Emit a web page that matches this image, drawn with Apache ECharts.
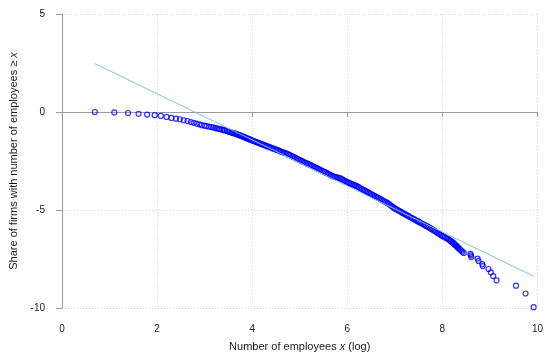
<!DOCTYPE html>
<html>
<head>
<meta charset="utf-8">
<script src="https://cdn.jsdelivr.net/npm/echarts@6/dist/echarts.min.js"></script>
<style>
  html, body { margin: 0; padding: 0; background: #fff; }
  #chart { width: 546px; height: 358px; }
</style>
</head>
<body>
<div id="chart"></div>
<script>
// Log firm size (x) and log share of firms with at least that many employees (y)
const logEmployees = [
  0.69, 1.10, 1.39, 1.61, 1.79, 1.95, 2.08, 2.20, 2.30, 2.40, 2.48, 2.56, 2.64, 2.71, 2.77, 2.83, 2.89, 2.94,
  3.00, 3.04, 3.09, 3.14, 3.18, 3.22, 3.26, 3.30, 3.33, 3.37, 3.40, 3.43, 3.47, 3.50, 3.53, 3.56, 3.58, 3.61,
  3.64, 3.66, 3.69, 3.71, 3.74, 3.76, 3.78, 3.81, 3.83, 3.85, 3.87, 3.89, 3.91, 3.93, 3.95, 3.97, 4.00,
  4.03, 4.06, 4.09, 4.12, 4.15, 4.18, 4.21, 4.24, 4.27, 4.30, 4.33, 4.36, 4.39, 4.42, 4.45, 4.48, 4.51, 4.54,
  4.57, 4.60, 4.63, 4.66, 4.69, 4.72, 4.75, 4.78, 4.81, 4.84, 4.87, 4.90, 4.93, 4.96, 4.99, 5.02, 5.05, 5.08,
  5.11, 5.14, 5.17, 5.20, 5.23, 5.26, 5.29, 5.32, 5.35, 5.38, 5.41, 5.44, 5.47, 5.50, 5.53, 5.56, 5.59, 5.62,
  5.65, 5.68, 5.71, 5.74, 5.77, 5.80, 5.83, 5.86, 5.89, 5.92, 5.95, 5.98, 6.01, 6.04, 6.07, 6.10, 6.13, 6.16,
  6.19, 6.22, 6.25, 6.28, 6.31, 6.34, 6.37, 6.40, 6.43, 6.46, 6.49, 6.52, 6.55, 6.58, 6.61, 6.64, 6.67, 6.70,
  6.73, 6.76, 6.79, 6.82, 6.85, 6.88, 6.91, 6.94, 6.97, 7.00, 7.03, 7.06, 7.09, 7.12, 7.15, 7.18, 7.21, 7.24,
  7.27, 7.30, 7.33, 7.36, 7.39, 7.42, 7.45, 7.48, 7.51, 7.54, 7.57, 7.60, 7.63, 7.66, 7.69, 7.72, 7.75, 7.78,
  7.81, 7.84, 7.87, 7.90, 7.93, 7.96, 7.99, 8.02, 8.05, 8.08, 8.11, 8.14, 8.16, 8.18, 8.20, 8.22, 8.24, 8.25,
  8.27, 8.29, 8.31, 8.33, 8.35, 8.37, 8.40, 8.42, 8.45,
  8.59, 8.60, 8.61, 8.74, 8.76, 8.84, 8.85, 8.97, 9.02, 9.07, 9.14, 9.55, 9.75, 9.92
];
const logShare = [
  0.00, -0.02, -0.05, -0.09, -0.13, -0.16, -0.20, -0.25, -0.30, -0.34, -0.37, -0.42, -0.46, -0.51, -0.55, -0.59, -0.63, -0.67,
  -0.70, -0.72, -0.75, -0.77, -0.79, -0.81, -0.84, -0.86, -0.88, -0.90, -0.92, -0.94, -0.97, -1.00, -1.02, -1.04, -1.06, -1.08,
  -1.10, -1.12, -1.15, -1.16, -1.19, -1.21, -1.23, -1.26, -1.28, -1.30, -1.32, -1.34, -1.36, -1.38, -1.40, -1.42, -1.45,
  -1.48, -1.51, -1.54, -1.56, -1.59, -1.62, -1.65, -1.68, -1.70, -1.73, -1.76, -1.78, -1.81, -1.84, -1.87, -1.90, -1.92, -1.95,
  -1.98, -2.01, -2.04, -2.07, -2.09, -2.12, -2.15, -2.19, -2.22, -2.26, -2.29, -2.33, -2.37, -2.40, -2.44, -2.47, -2.51, -2.54,
  -2.58, -2.61, -2.64, -2.68, -2.71, -2.75, -2.78, -2.82, -2.85, -2.89, -2.92, -2.96, -3.00, -3.03, -3.07, -3.11, -3.14, -3.18,
  -3.22, -3.26, -3.29, -3.31, -3.33, -3.35, -3.37, -3.39, -3.43, -3.47, -3.51, -3.55, -3.59, -3.62, -3.65, -3.68, -3.71, -3.74,
  -3.77, -3.81, -3.85, -3.89, -3.93, -3.97, -4.01, -4.05, -4.09, -4.13, -4.17, -4.21, -4.25, -4.29, -4.33, -4.37, -4.40, -4.45,
  -4.49, -4.53, -4.57, -4.61, -4.65, -4.70, -4.76, -4.81, -4.87, -4.92, -4.96, -5.00, -5.04, -5.08, -5.13, -5.17, -5.21, -5.25,
  -5.29, -5.33, -5.37, -5.41, -5.45, -5.49, -5.53, -5.57, -5.61, -5.65, -5.69, -5.73, -5.77, -5.81, -5.85, -5.89, -5.94, -5.98,
  -6.03, -6.07, -6.12, -6.17, -6.21, -6.26, -6.31, -6.35, -6.39, -6.43, -6.47, -6.51, -6.56, -6.59, -6.63, -6.66, -6.70, -6.74,
  -6.78, -6.82, -6.87, -6.92, -6.96, -7.02, -7.07, -7.13, -7.19,
  -7.24, -7.32, -7.40, -7.48, -7.60, -7.76, -7.86, -8.01, -8.18, -8.37, -8.59, -8.86, -9.26, -9.96
];

// Fitted power-law line (endpoints of the regression line)
const fitX = [0.69, 9.92];
const fitY = [2.47, -8.38];

// Axis ticks
const xTicks = [0, 2, 4, 6, 8, 10];
const yTicks = [-10, -5, 0, 5];

const points = logEmployees.map((x, i) => [x, logShare[i]]);
const fitLine = fitX.map((x, i) => [x, fitY[i]]);

const FONT = '"Liberation Sans", Arial, sans-serif';
const axisGray = '#9a9a9a';
const gridStyle = { color: '#d6d6d6', width: 1, type: [1, 2] };

const chart = echarts.init(document.getElementById('chart'), null, { renderer: 'canvas' });
chart.setOption({
  animation: false,
  backgroundColor: '#ffffff',
  grid: { left: 62, right: 4, top: 14, bottom: 50, containLabel: false },
  xAxis: {
    type: 'value',
    min: xTicks[0],
    max: xTicks[xTicks.length - 1],
    interval: xTicks[1] - xTicks[0],
    offset: 8,
    name: 'Number of employees {i|x} (log)',
    nameLocation: 'middle',
    nameGap: 25,
    nameTextStyle: {
      fontFamily: FONT, fontSize: 11, color: '#1a1a1a',
      rich: { i: { fontFamily: FONT, fontSize: 11, fontStyle: 'italic', color: '#1a1a1a' } }
    },
    axisLine: { show: true, lineStyle: { color: axisGray, width: 1 } },
    axisTick: { show: true, length: 5, lineStyle: { color: axisGray } },
    axisLabel: { fontFamily: FONT, fontSize: 10, color: '#1a1a1a', margin: 8 },
    splitLine: { show: true, lineStyle: gridStyle }
  },
  yAxis: {
    type: 'value',
    min: yTicks[0],
    max: yTicks[yTicks.length - 1],
    interval: yTicks[1] - yTicks[0],
    offset: 9,
    name: 'Share of firms with number of employees ≥ {i|x}',
    nameLocation: 'middle',
    nameGap: 32,
    nameTextStyle: {
      fontFamily: FONT, fontSize: 11, color: '#1a1a1a',
      rich: { i: { fontFamily: FONT, fontSize: 11, fontStyle: 'italic', color: '#1a1a1a' } }
    },
    axisLine: { show: true, lineStyle: { color: axisGray, width: 1 } },
    axisTick: { show: true, length: 6, lineStyle: { color: axisGray } },
    axisLabel: { fontFamily: FONT, fontSize: 10, color: '#1a1a1a', margin: 8 },
    splitLine: { show: true, lineStyle: gridStyle }
  },
  series: [
    {
      type: 'scatter',
      data: points,
      symbol: 'circle',
      symbolSize: 5,
      itemStyle: { color: 'rgba(0,0,0,0)', borderColor: '#0000ff', borderWidth: 1.2 },
      z: 2
    },
    {
      type: 'line',
      data: fitLine,
      symbol: 'none',
      lineStyle: { color: '#84bfe8', width: 1 },
      z: 3
    }
  ]
});
</script>
</body>
</html>
